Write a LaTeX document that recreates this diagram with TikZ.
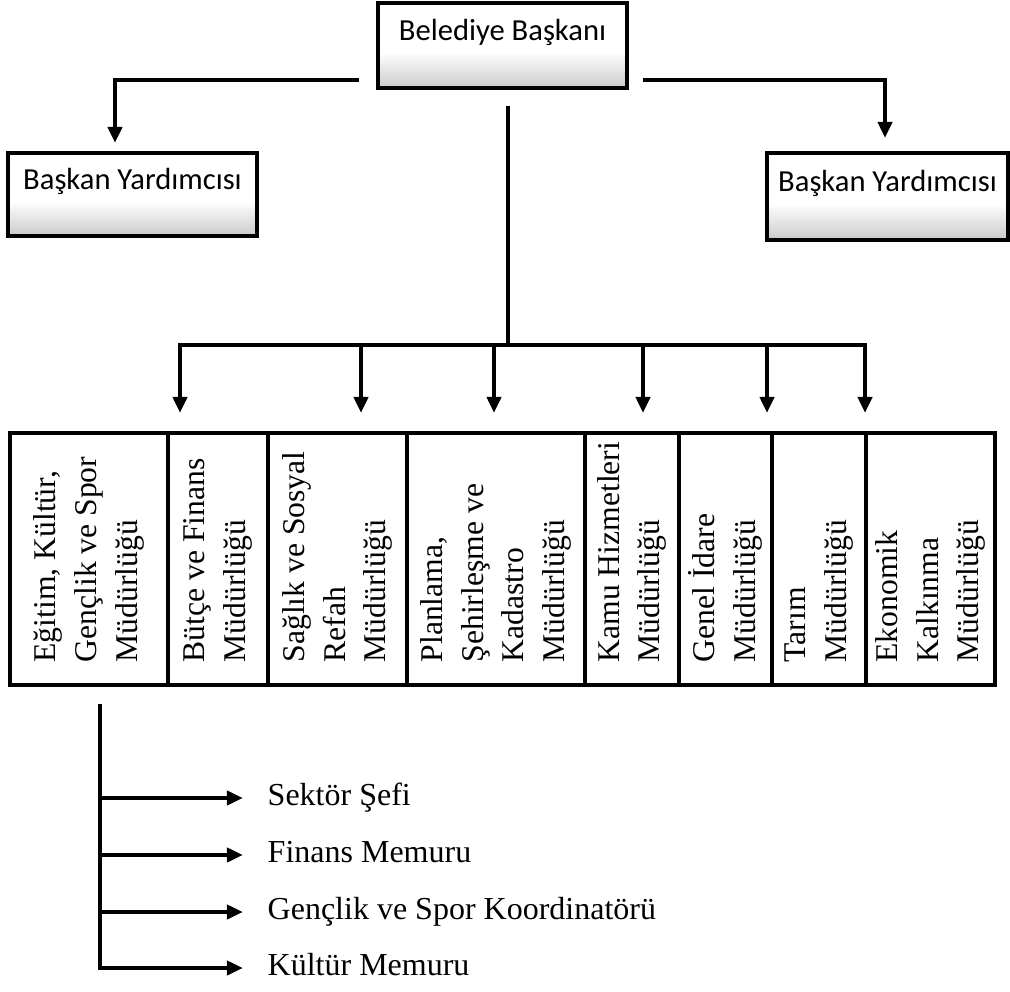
\documentclass[tikz,border=0pt]{standalone}
\usepackage{fontspec}
\setmainfont{Liberation Serif}
\newfontfamily\carlito{Carlito}
\usetikzlibrary{arrows.meta}

\pgfdeclareverticalshading{speckle}{100bp}{color(0bp)=(black!45); color(20bp)=(black!26); color(46bp)=(white); color(100bp)=(white)}

\begin{document}
\begin{tikzpicture}[x=0.01cm, y=-0.01cm,
  boss/.style={draw, line width=1.1pt, shading=speckle, inner sep=0pt,
    font=\carlito\fontsize{8.7}{10}\selectfont, text height=8pt, text depth=11pt},
  col/.style={draw, line width=0.9pt, inner sep=0pt, outer sep=0pt, minimum height=2.52cm},
  coltext/.style={rotate=90, anchor=west, align=left, inner sep=0pt,
    font=\fontsize{9}{11.6}\selectfont},
  link/.style={line width=1.2pt, line cap=rect},
  ok/.style={line width=1.2pt, -{Triangle[length=4.6pt, width=4pt]}},
  unit/.style={anchor=west, inner sep=0pt, text height=6.5pt, text depth=2pt,
    font=\fontsize{9.1}{11}\selectfont}]
  \useasboundingbox (0,0) rectangle (1010,992);

  % Nodes
  \node[boss, minimum width=2.49cm, minimum height=0.85cm] (bb) at (502.5,45.5) {Belediye Başkanı};
  \node[boss, minimum width=2.49cm, minimum height=0.83cm] (yl) at (132.5,194.5) {Başkan Yardımcısı};
  \node[boss, minimum width=2.41cm, minimum height=0.87cm] (yr) at (887.5,196.5) {Başkan Yardımcısı};

  \foreach \i/\l/\r/\txt in {
      1/10/168/{Eğitim, Kültür,\\Gençlik ve Spor\\Müdürlüğü},
      2/168/268/{Bütçe ve Finans\\Müdürlüğü},
      3/268/407/{Sağlık ve Sosyal\\Refah\\Müdürlüğü},
      4/407/585/{Planlama,\\Şehirleşme ve\\Kadastro\\Müdürlüğü},
      5/585/679/{Kamu Hizmetleri\\Müdürlüğü},
      6/679/772/{Genel İdare\\Müdürlüğü},
      7/772/866/{Tarım\\Müdürlüğü},
      8/866/995/{Ekonomik\\Kalkınma\\Müdürlüğü}}{
    \node[col, minimum width={(\r-\l)*0.01cm}] (c\i) at ({(\l+\r)/2},559) {};
    \node[coltext] (t\i) at ([yshift=0.22cm]c\i.south) {\txt};
  }

  \foreach \i/\y/\txt in {1/798/Sektör Şefi, 2/855/Finans Memuru,
      3/912/Gençlik ve Spor Koordinatörü, 4/968/Kültür Memuru}{
    \node[unit] (k\i) at (267,\y) {\txt};
  }

  % Edges
  \coordinate (ls) at (359,80);
  \coordinate (lt) at (115,143);
  \coordinate (rs) at (643,80);
  \coordinate (rt) at (885,138);
  \draw[ok] (ls) -| (lt);
  \draw[ok] (rs) -| (rt);

  \coordinate (stem) at (508,108);
  \coordinate (hub) at (508,345);
  \draw[link] (stem) -- (hub);
  \foreach \j/\x in {1/180, 2/361, 3/494, 4/643, 5/767, 6/865}{
    \coordinate (a\j) at (\x,413);
  }
  \draw[link] (hub -| a1) -- (hub -| a6);
  \foreach \j in {1,...,6}{
    \draw[ok] (hub -| a\j) -- (a\j);
  }

  \coordinate (trunk) at (100,704);
  \draw[ok] (trunk) |- ([xshift=-0.24cm]k4.west);
  \foreach \i in {1,2,3}{
    \draw[ok] (trunk |- k\i.west) -- ([xshift=-0.24cm]k\i.west);
  }

\end{tikzpicture}
\end{document}
